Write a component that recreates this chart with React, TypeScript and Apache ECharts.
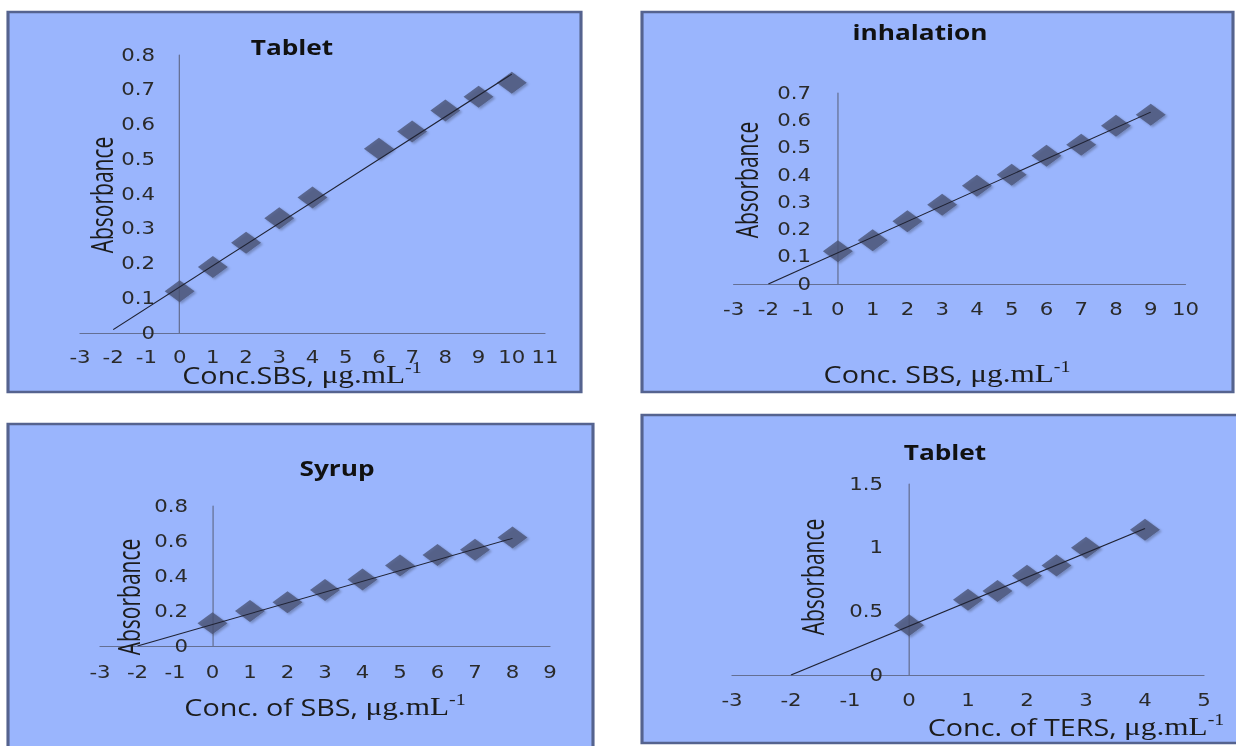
import React, { useEffect, useRef } from 'react';
import * as echarts from 'echarts';

// ---------------- data ----------------
// Panel 1 — Tablet (SBS)
const p1Conc = [0, 1, 2, 3, 4, 6, 7, 8, 9, 10];
const p1Abs = [0.12, 0.19, 0.26, 0.33, 0.39, 0.53, 0.58, 0.64, 0.68, 0.72];
const p1TrendConc = [-2, 10];
const p1TrendAbs = [0.01, 0.745];
const p1XTicks = [-3, -2, -1, 0, 1, 2, 3, 4, 5, 6, 7, 8, 9, 10, 11];
const p1YTicks = [0, 0.1, 0.2, 0.3, 0.4, 0.5, 0.6, 0.7, 0.8];

// Panel 2 — inhalation (SBS)
const p2Conc = [0, 1, 2, 3, 4, 5, 6, 7, 8, 9];
const p2Abs = [0.12, 0.16, 0.23, 0.29, 0.36, 0.40, 0.47, 0.51, 0.58, 0.62];
const p2TrendConc = [-2, 9];
const p2TrendAbs = [0.0, 0.63];
const p2XTicks = [-3, -2, -1, 0, 1, 2, 3, 4, 5, 6, 7, 8, 9, 10];
const p2YTicks = [0, 0.1, 0.2, 0.3, 0.4, 0.5, 0.6, 0.7];

// Panel 3 — Syrup (SBS)
const p3Conc = [0, 1, 2, 3, 4, 5, 6, 7, 8];
const p3Abs = [0.13, 0.20, 0.25, 0.32, 0.38, 0.46, 0.52, 0.55, 0.62];
const p3TrendConc = [-2, 8];
const p3TrendAbs = [0.0, 0.615];
const p3XTicks = [-3, -2, -1, 0, 1, 2, 3, 4, 5, 6, 7, 8, 9];
const p3YTicks = [0, 0.2, 0.4, 0.6, 0.8];

// Panel 4 — Tablet (TERS)
const p4Conc = [0, 1, 1.5, 2, 2.5, 3, 4];
const p4Abs = [0.39, 0.59, 0.66, 0.78, 0.86, 1.0, 1.14];
const p4TrendConc = [-2, 4];
const p4TrendAbs = [0.0, 1.15];
const p4XTicks = [-3, -2, -1, 0, 1, 2, 3, 4, 5];
const p4YTicks = [0, 0.5, 1, 1.5];

const titles = ['Tablet', 'inhalation', 'Syrup', 'Tablet'];
const xNames = ['Conc.SBS, ', 'Conc. SBS, ', 'Conc. of SBS, ', 'Conc. of TERS, '];
const xUnit = 'μg.mL';
const xUnitExp = '-1';
const yName = 'Absorbance';

// ---------------- layout (page pixels) ----------------
const W = 1236;
const H = 746;
const INNER_W = 989;
const S = W / INNER_W; // horizontal stretch of the original figure

// grid: [x of min, y of max, x of max, y of 0]; yLabelRight: right edge of the y tick labels
const layouts = [
  { box: [8, 12, 581, 392], grid: [80, 55, 545, 333], title: [292, 47], xName: [302, 375], yName: [101, 195], xMargin: 16, yLabelRight: 155 },
  { box: [642, 12, 1233, 392], grid: [733.6, 93, 1185.5, 284], title: [920, 32], xName: [947, 374], yName: [746, 180], xMargin: 17, yLabelRight: 811 },
  { box: [8, 424, 593, 780], grid: [100, 506, 550, 646], title: [337, 468], xName: [325, 707], yName: [128, 597], xMargin: 18, yLabelRight: 188 },
  { box: [642, 415, 1270, 743], grid: [732, 484, 1204, 675], title: [945, 452], xName: [1076, 727], yName: [812, 577], xMargin: 17, yLabelRight: 883 },
];

const panels = [
  { conc: p1Conc, abs: p1Abs, tc: p1TrendConc, ta: p1TrendAbs, xt: p1XTicks, yt: p1YTicks },
  { conc: p2Conc, abs: p2Abs, tc: p2TrendConc, ta: p2TrendAbs, xt: p2XTicks, yt: p2YTicks },
  { conc: p3Conc, abs: p3Abs, tc: p3TrendConc, ta: p3TrendAbs, xt: p3XTicks, yt: p3YTicks },
  { conc: p4Conc, abs: p4Abs, tc: p4TrendConc, ta: p4TrendAbs, xt: p4XTicks, yt: p4YTicks },
];

const BG = '#9ab5fd';
const BORDER = '#55638f';
const AXIS = '#646f93';
const TEXT = '#1c1c1c';
const MARK = '#4a5477';
const TREND = '#1f2233';

function buildOption(): any {
  const ix = (x: number) => x / S;
  const grid: any[] = [];
  const xAxis: any[] = [];
  const yAxis: any[] = [];
  const series: any[] = [];
  const graphic: any[] = [];

  panels.forEach((p, i) => {
    const L = layouts[i];
    grid.push({
      left: ix(L.grid[0]),
      top: L.grid[1],
      width: ix(L.grid[2] - L.grid[0]),
      height: L.grid[3] - L.grid[1],
      containLabel: false,
    });
    const axisCommon = {
      type: 'value',
      gridIndex: i,
      axisTick: { show: false },
      splitLine: { show: false },
      axisLine: { show: true, onZero: true, lineStyle: { color: AXIS, width: 1 } },
    };
    xAxis.push({
      ...axisCommon,
      min: p.xt[0],
      max: p.xt[p.xt.length - 1],
      interval: p.xt[1] - p.xt[0],
      axisLabel: { margin: L.xMargin, fontFamily: 'DejaVu Sans', fontSize: 17, color: '#2a2a2a' },
    });
    yAxis.push({
      ...axisCommon,
      min: p.yt[0],
      max: p.yt[p.yt.length - 1],
      interval: p.yt[1] - p.yt[0],
      axisLabel: {
        margin: ix(L.grid[0] - L.yLabelRight),
        fontFamily: 'DejaVu Sans',
        fontSize: 17,
        color: '#2a2a2a',
      },
    });
    series.push({
      type: 'scatter',
      xAxisIndex: i,
      yAxisIndex: i,
      symbol: 'diamond',
      symbolSize: [24, 22],
      itemStyle: {
        color: MARK,
        shadowBlur: 2,
        shadowColor: 'rgba(0,0,0,0.3)',
        shadowOffsetX: 1.5,
        shadowOffsetY: 1.5,
      },
      data: p.conc.map((c, k) => [c, p.abs[k]]),
      z: 2,
    });
    series.push({
      type: 'line',
      xAxisIndex: i,
      yAxisIndex: i,
      symbol: 'none',
      showSymbol: false,
      lineStyle: { color: TREND, width: 1 },
      data: p.tc.map((c, k) => [c, p.ta[k]]),
      z: 3,
    });

    // panel background with border
    graphic.push({
      type: 'rect',
      z: -10,
      silent: true,
      shape: { x: ix(L.box[0]), y: L.box[1], width: ix(L.box[2] - L.box[0]), height: L.box[3] - L.box[1] },
      style: { fill: BG, stroke: BORDER, lineWidth: 2.5 },
    });
    // chart title
    graphic.push({
      type: 'text',
      z: 10,
      x: ix(L.title[0]),
      y: L.title[1],
      style: {
        text: titles[i],
        fontFamily: 'Open Sans',
        fontWeight: 'bold',
        fontSize: 21,
        fill: '#111',
        align: 'center',
        verticalAlign: 'middle',
        textAlign: 'center',
        textVerticalAlign: 'middle',
      },
    });
    // y axis title
    graphic.push({
      type: 'text',
      z: 10,
      x: ix(L.yName[0]),
      y: L.yName[1],
      rotation: Math.PI / 2,
      scaleX: 0.84,
      style: {
        text: yName,
        fontFamily: 'Open Sans',
        fontSize: 25,
        fill: TEXT,
        align: 'center',
        verticalAlign: 'middle',
        textAlign: 'center',
        textVerticalAlign: 'middle',
      },
    });
    // x axis title
    graphic.push({
      type: 'text',
      z: 10,
      x: ix(L.xName[0]),
      y: L.xName[1],
      style: {
        text: `{a|${xNames[i]}}{b|${xUnit}}{c|${xUnitExp}}`,
        align: 'center',
        verticalAlign: 'middle',
        textAlign: 'center',
        textVerticalAlign: 'middle',
        fill: TEXT,
        rich: {
          a: { fontFamily: 'Open Sans', fontSize: 23, fill: TEXT, color: TEXT, lineHeight: 30 },
          b: { fontFamily: 'Liberation Serif', fontSize: 25, fill: TEXT, color: TEXT, lineHeight: 30 },
          c: { fontFamily: 'Liberation Serif', fontSize: 16, fill: TEXT, color: TEXT, verticalAlign: 'top', lineHeight: 18 },
        },
      },
    });
  });

  return {
    animation: false,
    backgroundColor: '#ffffff',
    grid,
    xAxis,
    yAxis,
    series,
    graphic: { elements: graphic },
  };
}

export default function App() {
  const ref = useRef<HTMLDivElement>(null);
  useEffect(() => {
    document.body.style.margin = '0';
    const chart = echarts.init(ref.current as HTMLDivElement, undefined, { renderer: 'svg' });
    chart.setOption(buildOption());
    return () => {
      chart.dispose();
    };
  }, []);
  return (
    <div style={{ position: 'fixed', left: 0, top: 0, width: W, height: H, overflow: 'hidden', background: '#fff' }}>
      <div
        ref={ref}
        style={{ width: INNER_W, height: H, transform: `scaleX(${S})`, transformOrigin: '0 0' }}
      />
    </div>
  );
}
